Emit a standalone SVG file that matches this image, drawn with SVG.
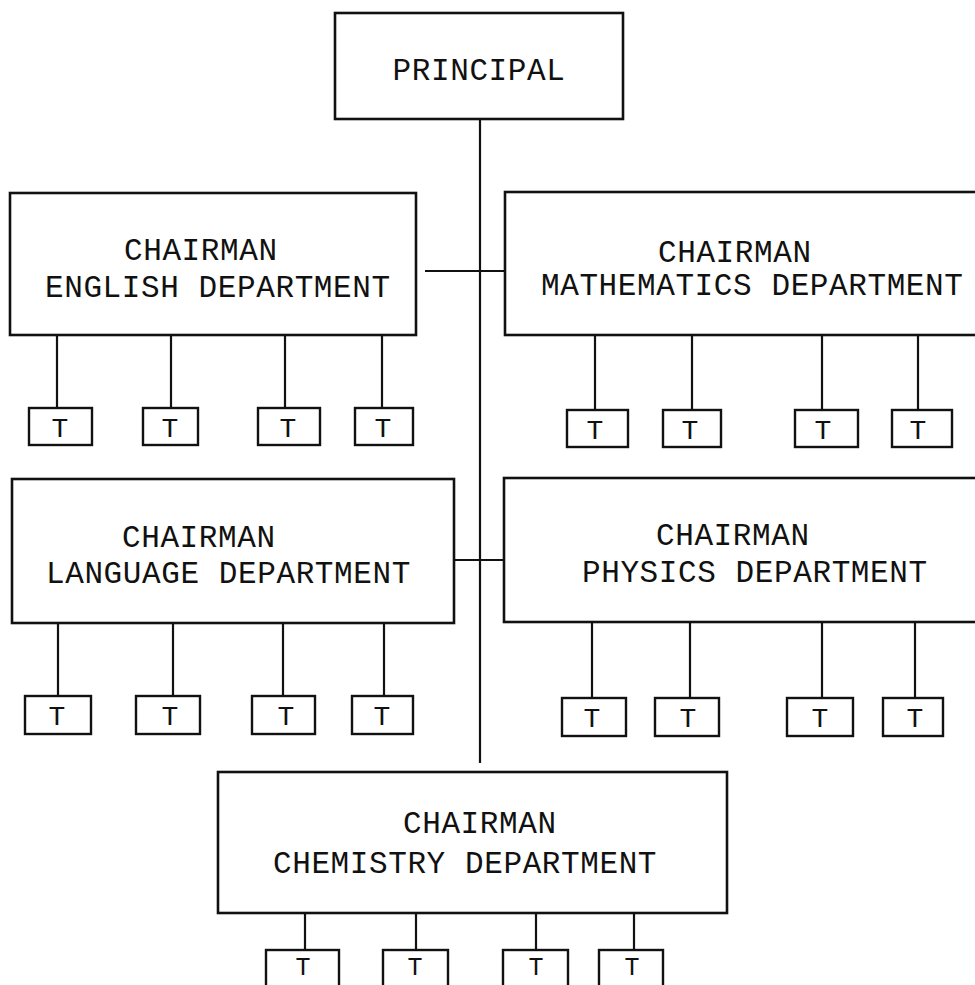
<svg xmlns="http://www.w3.org/2000/svg" width="975" height="985" viewBox="0 0 975 985">
<style>
.box{fill:#fff;stroke:#111;stroke-width:2.6}
.tb{fill:#fff;stroke:#111;stroke-width:2.4}
.ln{stroke:#111;stroke-width:2.2;fill:none}
.lb{font-family:"Liberation Mono","Courier New",monospace;font-size:31px;letter-spacing:0.6px;fill:#111}
.t{font-family:"Liberation Mono","Courier New",monospace;font-size:28px;fill:#111;text-anchor:middle}
.tc{font-size:25px}
</style>
<rect width="975" height="985" fill="#fff"/>
<g id="connectors">
<path class="ln" d="M480,119 V763"/>
<path class="ln" d="M425,271 H505"/>
<path class="ln" d="M447,560 H504"/>
<path class="ln" d="M57,335 V408 M171,335 V408 M285,335 V408 M382,335 V408"/>
<path class="ln" d="M595,335 V410 M692,335 V410 M822,335 V410 M918,335 V410"/>
<path class="ln" d="M58,623 V696 M173,623 V696 M283,623 V696 M384,623 V696"/>
<path class="ln" d="M592,622 V698 M690,622 V698 M822,622 V698 M915,622 V698"/>
<path class="ln" d="M305,913 V950 M416,913 V950 M536,913 V950 M634,913 V950"/>
</g>
<g id="principal">
<rect class="box" x="335" y="13" width="288" height="106"/>
<text class="lb" x="479" y="80" text-anchor="middle">PRINCIPAL</text>
</g>
<g id="english">
<rect class="box" x="10" y="193" width="406" height="142"/>
<text class="lb" x="124" y="260">CHAIRMAN</text>
<text class="lb" x="45" y="297">ENGLISH DEPARTMENT</text>
</g>
<g id="english-teachers">
<rect class="tb" x="29" y="408" width="63" height="37"/><text class="t" x="60" y="437">T</text>
<rect class="tb" x="143" y="408" width="55" height="37"/><text class="t" x="170" y="437">T</text>
<rect class="tb" x="258" y="408" width="62" height="37"/><text class="t" x="288" y="437">T</text>
<rect class="tb" x="355" y="408" width="58" height="37"/><text class="t" x="383" y="437">T</text>
</g>
<g id="mathematics">
<rect class="box" x="505" y="192" width="475" height="143"/>
<text class="lb" x="658" y="262">CHAIRMAN</text>
<text class="lb" x="541" y="295">MATHEMATICS DEPARTMENT</text>
</g>
<g id="mathematics-teachers">
<rect class="tb" x="567" y="410" width="61" height="37"/><text class="t" x="595" y="439">T</text>
<rect class="tb" x="663" y="410" width="58" height="37"/><text class="t" x="690" y="439">T</text>
<rect class="tb" x="795" y="410" width="63" height="37"/><text class="t" x="823" y="439">T</text>
<rect class="tb" x="892" y="410" width="60" height="37"/><text class="t" x="918" y="439">T</text>
</g>
<g id="language">
<rect class="box" x="12" y="479" width="442" height="144"/>
<text class="lb" x="122" y="547">CHAIRMAN</text>
<text class="lb" x="46" y="583">LANGUAGE DEPARTMENT</text>
</g>
<g id="language-teachers">
<rect class="tb" x="25" y="696" width="66" height="38"/><text class="t" x="57" y="725">T</text>
<rect class="tb" x="136" y="696" width="64" height="38"/><text class="t" x="170" y="725">T</text>
<rect class="tb" x="252" y="696" width="63" height="38"/><text class="t" x="286" y="725">T</text>
<rect class="tb" x="352" y="696" width="61" height="38"/><text class="t" x="382" y="725">T</text>
</g>
<g id="physics">
<rect class="box" x="504" y="478" width="476" height="144"/>
<text class="lb" x="656" y="545">CHAIRMAN</text>
<text class="lb" x="582" y="582">PHYSICS DEPARTMENT</text>
</g>
<g id="physics-teachers">
<rect class="tb" x="562" y="698" width="64" height="38"/><text class="t" x="592" y="727">T</text>
<rect class="tb" x="655" y="698" width="64" height="38"/><text class="t" x="688" y="727">T</text>
<rect class="tb" x="787" y="698" width="66" height="38"/><text class="t" x="820" y="727">T</text>
<rect class="tb" x="883" y="698" width="60" height="38"/><text class="t" x="915" y="727">T</text>
</g>
<g id="chemistry">
<rect class="box" x="218" y="772" width="509" height="141"/>
<text class="lb" x="403" y="833">CHAIRMAN</text>
<text class="lb" x="273" y="873">CHEMISTRY DEPARTMENT</text>
</g>
<g id="chemistry-teachers">
<rect class="tb" x="266" y="950" width="73" height="50"/><text class="t tc" x="303" y="975">T</text>
<rect class="tb" x="383" y="950" width="65" height="50"/><text class="t tc" x="415" y="975">T</text>
<rect class="tb" x="503" y="950" width="65" height="50"/><text class="t tc" x="536" y="975">T</text>
<rect class="tb" x="599" y="950" width="64" height="50"/><text class="t tc" x="632" y="975">T</text>
</g>
</svg>
